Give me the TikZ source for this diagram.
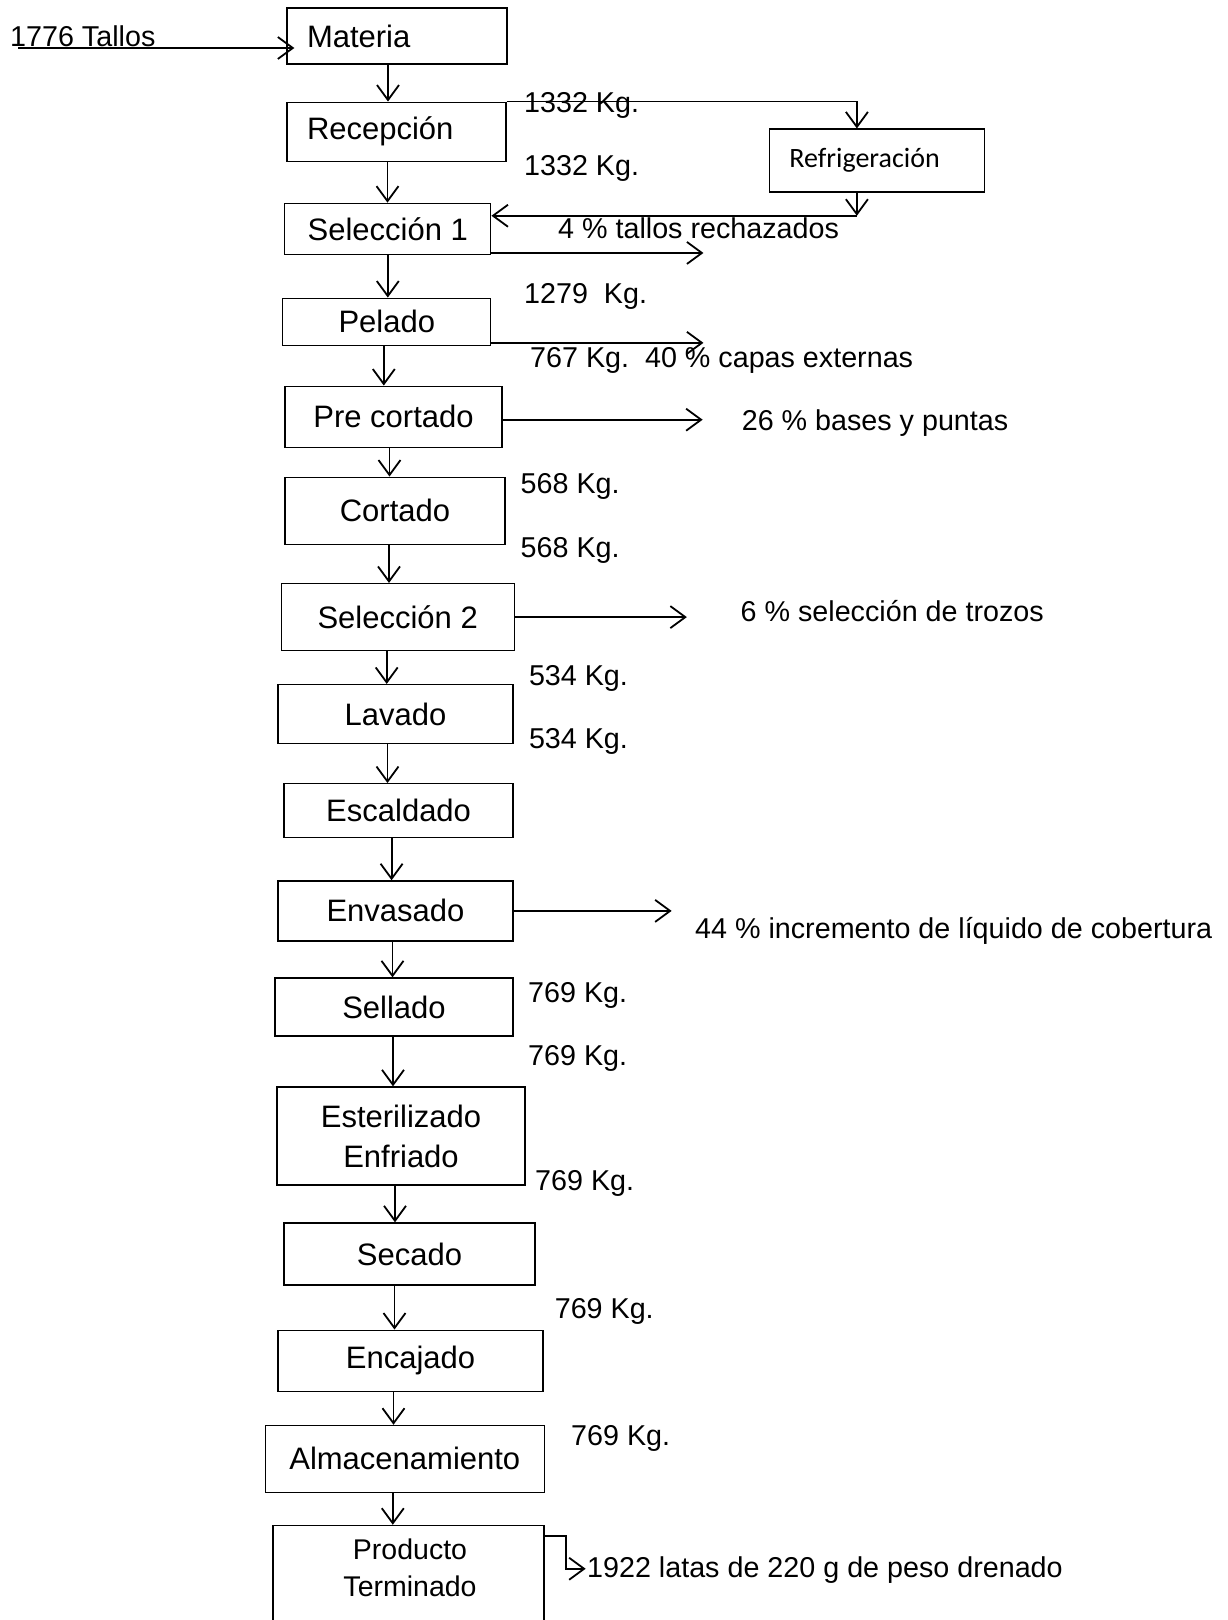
\documentclass[tikz,border=0pt]{standalone}
\usepackage{fontspec}
\setmainfont{Liberation Sans}
\newfontfamily\refrifont{Carlito}
\usetikzlibrary{arrows.meta}

\begin{document}
\begin{tikzpicture}[x=1pt, y=-1pt,
    every node/.style={inner sep=0pt},
    paso/.style={draw, line width=1.3pt, align=center,
                font=\fontsize{31}{40}\selectfont},
    pasol/.style={paso, align=left, text width=#1, inner xsep=20pt},
    dato/.style={anchor=base west, font=\fontsize{28.7}{34}\selectfont},
    flujo/.style={-{Straight Barb[length=15pt, width=22pt, line width=1.8pt]}, line width=1.8pt},
  ]

  \fill[white] (0,0) rectangle (1228,1620);
  \clip (0,0) rectangle (1228,1620);

  % === Main vertical flow ===
  \node[pasol=180pt, minimum height=56pt] (mat)  at (397,36)     {Materia};
  \node[pasol=179pt, minimum height=59pt] (rec)  at (396.5,131.7) {Recepción};
  \node[paso, minimum width=206pt, minimum height=51pt] (selA) at (387.8,228.8) {Selección 1};
  \node[paso, minimum width=208pt, minimum height=47pt] (pel)  at (386.8,321.7) {Pelado};
  \node[paso, minimum width=217pt, minimum height=61pt] (pre)  at (393.5,416.7) {Pre cortado};
  \node[paso, minimum width=220pt, minimum height=67pt] (cor)  at (395,510.7)   {Cortado};
  \node[paso, minimum width=233pt, minimum height=67pt] (selB) at (397.7,617.1) {Selección 2};
  \node[paso, minimum width=235pt, minimum height=59pt] (lav)  at (395.5,714.1) {Lavado};
  \node[paso, minimum width=229pt, minimum height=54pt] (esc)  at (398.6,810.7) {Escaldado};
  \node[paso, minimum width=235pt, minimum height=60pt] (env)  at (395.5,910.9) {Envasado};
  \node[paso, minimum width=238pt, minimum height=58pt] (sel)  at (394,1007)    {Sellado};
  \node[paso, minimum width=248pt, minimum height=98pt] (est)  at (401,1136)    {Esterilizado\\Enfriado};
  \node[paso, minimum width=251pt, minimum height=62pt] (sec)  at (409.5,1254)  {Secado};
  \node[paso, minimum width=265pt, minimum height=61pt] (enc)  at (410.5,1360.7) {Encajado};
  \node[paso, minimum width=279pt, minimum height=67pt] (alm)  at (404.8,1458.9) {Almacenamiento};
  \node[paso, minimum width=271pt, minimum height=100pt] (pro) at (408.5,1575.4) {};
  \node[align=center, font=\fontsize{28.5}{37}\selectfont] (proT) at (410,1568) {Producto\\Terminado};

  % === Side box ===
  \node[draw, line width=1.3pt, minimum height=63pt, text width=175pt, inner xsep=20pt,
        font=\refrifont\fontsize{28}{34}\selectfont] (refri) at (876.9,160.6) {Refrigeración};

  % === Main arrows ===
  \foreach \a/\b/\s in {mat/rec/-9, rec/selA/-9, selA/pel/0, pel/pre/-3, pre/cor/-4,
                        cor/selB/-6, selB/lav/-11, lav/esc/-8, esc/env/-7, env/sel/-3,
                        sel/est/-1, est/sec/-6, sec/enc/-15, enc/alm/-17, alm/pro/-12}
    \draw[flujo] ([xshift=\s pt]\a.south) -- ([xshift=\s pt]\a.south |- \b.north);

  % === Input ===
  \node[dato] (tallos) at (10,46) {1776 Tallos};
  \draw[flujo] ([xshift=8pt, yshift=-2pt]tallos.base west) -- ([xshift=8pt, yshift=-2pt]tallos.base west -| mat.west);

  % === Refrigeration loop ===
  \coordinate (rr) at ([xshift=-20pt]refri.north);
  \coordinate (rs) at ([xshift=-20pt, yshift=-23pt]refri.south);
  \draw[flujo] (rec.north east) -| (rr);
  \draw[flujo] ([xshift=-20pt]refri.south) -- (rs);
  \draw[flujo] (rs) -- (rs -| selA.east);

  % === Side outputs ===
  \draw[flujo] ([yshift=2pt]selA.south east) -- ++(212,0);
  \draw[flujo] ([yshift=3pt]pel.south east)  -- ++(212,0);
  \draw[flujo] ([yshift=-3pt]pre.east)       -- ++(200,0);
  \draw[flujo] (selB.east)                   -- ++(172,0);
  \draw[flujo] (env.east)                    -- ++(158,0);
  \draw[flujo] ([yshift=-11pt]pro.north east) -- ++(21,0) -- ++(0,33) -- ++(20,0);

  % === Mass labels ===
  \node[dato] (m1)  at (524,112)    {1332 Kg.};
  \node[dato] (m2)  at (524,175)    {1332 Kg.};
  \node[dato] (r1)  at (558,238)    {4 \% tallos rechazados};
  \node[dato] (m3)  at (524,303)    {1279\ \ Kg.};
  \node[dato] (r2)  at (530,367)    {767 Kg.\ \ 40 \% capas externas};
  \node[dato] (r3)  at (741.6,430)  {26 \% bases y puntas};
  \node[dato] (m4)  at (520.5,493)  {568 Kg.};
  \node[dato] (m5)  at (520.5,557)  {568 Kg.};
  \node[dato] (r4)  at (740.5,621)  {6 \% selección de trozos};
  \node[dato] (m6)  at (528.8,685)  {534 Kg.};
  \node[dato] (m7)  at (528.8,748)  {534 Kg.};
  \node[dato] (r5)  at (695,938)    {44 \% incremento de líquido de cobertura};
  \node[dato] (m8)  at (528,1002)   {769 Kg.};
  \node[dato] (m9)  at (528,1065)   {769 Kg.};
  \node[dato] (m10) at (535,1190)   {769 Kg.};
  \node[dato] (m11) at (554.6,1318) {769 Kg.};
  \node[dato] (m12) at (571,1445)   {769 Kg.};
  \node[dato] (fin) at (587,1577)   {1922 latas de 220 g de peso drenado};

\end{tikzpicture}
\end{document}
